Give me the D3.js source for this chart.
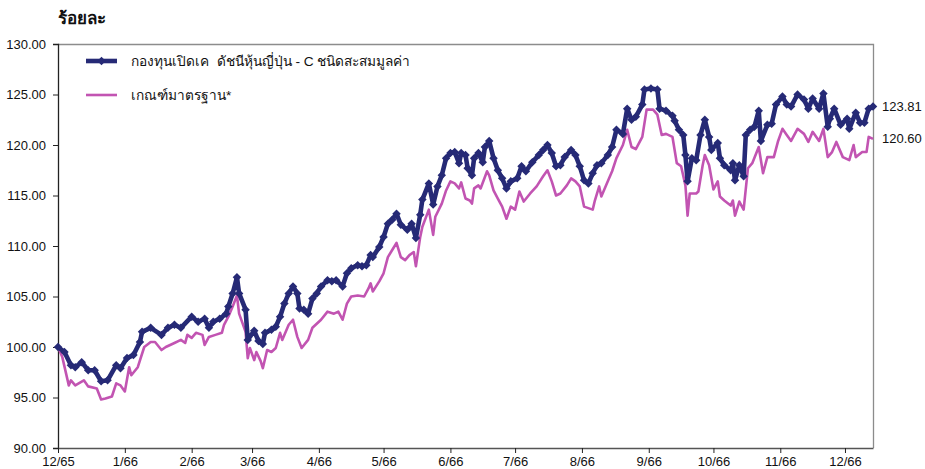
<!DOCTYPE html>
<html>
<head>
<meta charset="utf-8">
<script src="https://cdn.jsdelivr.net/npm/d3@7"></script>
<style>
  html, body { margin: 0; padding: 0; background: #fff; }
  svg { display: block; font-family: "Liberation Sans", Arial, sans-serif; }
</style>
</head>
<body>
<svg id="chart" width="925" height="469"></svg>
<script>
// Fund NAV index (rebased to 100) – dates and values
const fundDates = [
  "2022-12-14","2022-12-17","2022-12-20","2022-12-22","2022-12-25","2022-12-28","2022-12-31",
  "2023-01-03","2023-01-06","2023-01-10","2023-01-12","2023-01-15","2023-01-18","2023-01-21","2023-01-22","2023-01-26","2023-01-31",
  "2023-02-03","2023-02-06","2023-02-09","2023-02-14","2023-02-17","2023-02-20","2023-02-22","2023-02-24","2023-02-27",
  "2023-03-02","2023-03-03","2023-03-05","2023-03-07","2023-03-08","2023-03-11","2023-03-12","2023-03-15","2023-03-17","2023-03-19","2023-03-20","2023-03-23","2023-03-25","2023-03-27","2023-03-29","2023-03-31",
  "2023-04-02","2023-04-04","2023-04-05","2023-04-07","2023-04-09","2023-04-11","2023-04-13","2023-04-15","2023-04-18","2023-04-20","2023-04-22","2023-04-25","2023-04-27","2023-04-29",
  "2023-05-02","2023-05-04","2023-05-06","2023-05-08","2023-05-09","2023-05-12","2023-05-14","2023-05-16","2023-05-18","2023-05-20","2023-05-22","2023-05-25","2023-05-27","2023-05-29","2023-05-31",
  "2023-06-01","2023-06-04","2023-06-06","2023-06-08","2023-06-10","2023-06-12","2023-06-14","2023-06-16","2023-06-18","2023-06-19","2023-06-21","2023-06-22","2023-06-24","2023-06-25","2023-06-27","2023-06-29","2023-06-30",
  "2023-07-02","2023-07-04","2023-07-06","2023-07-08","2023-07-10","2023-07-12","2023-07-15","2023-07-17","2023-07-19","2023-07-22","2023-07-25","2023-07-27","2023-07-29","2023-07-31",
  "2023-08-02","2023-08-04","2023-08-06","2023-08-09","2023-08-11","2023-08-13","2023-08-15","2023-08-17","2023-08-19","2023-08-21","2023-08-23","2023-08-26","2023-08-28","2023-08-30",
  "2023-09-02","2023-09-04","2023-09-06","2023-09-08","2023-09-11","2023-09-12","2023-09-15","2023-09-18","2023-09-19","2023-09-22","2023-09-25","2023-09-26","2023-09-28","2023-09-30",
  "2023-10-01","2023-10-02","2023-10-04","2023-10-06","2023-10-08","2023-10-10","2023-10-12","2023-10-13","2023-10-16","2023-10-17","2023-10-19","2023-10-22","2023-10-23","2023-10-24","2023-10-26","2023-10-28","2023-10-29","2023-10-31",
  "2023-11-02","2023-11-04","2023-11-05","2023-11-08","2023-11-10","2023-11-12","2023-11-15","2023-11-17","2023-11-19","2023-11-22","2023-11-25","2023-11-27","2023-11-29",
  "2023-12-02","2023-12-04","2023-12-06","2023-12-07","2023-12-09","2023-12-12","2023-12-15","2023-12-16","2023-12-19","2023-12-21","2023-12-23","2023-12-25","2023-12-27"
];
const fundValues = [
  100.0,99.5,98.2,98.0,98.5,97.7,97.7,
  96.6,96.7,98.2,97.9,98.9,99.2,100.5,101.5,101.9,101.2,
  101.9,102.2,101.9,103.0,102.5,102.8,101.9,102.5,102.8,
  103.3,104.0,105.3,106.9,105.3,103.7,100.7,101.6,100.6,100.3,101.4,101.7,102.0,103.0,104.3,105.3,
  106.0,105.3,103.8,103.7,103.3,104.8,105.3,106.0,106.6,106.5,106.6,106.0,107.3,107.8,
  108.1,108.0,108.1,109.1,108.9,109.9,110.9,112.2,112.6,113.2,112.1,111.6,112.2,110.8,113.1,
  114.6,116.2,114.1,115.9,117.0,118.7,119.2,119.3,118.2,119.2,119.0,117.7,117.0,118.7,119.2,118.3,119.8,
  120.4,118.7,117.5,116.7,115.7,116.4,116.7,117.9,117.4,118.3,119.0,119.5,120.0,119.2,
  117.9,118.0,118.8,119.5,119.0,117.9,116.5,116.2,117.2,118.0,118.2,119.0,119.8,121.5,
  121.1,123.6,122.5,122.8,124.0,125.5,125.6,125.5,123.6,123.4,122.9,122.4,121.5,121.0,
  119.0,116.4,118.7,118.5,121.0,122.5,120.8,119.5,120.2,118.7,118.0,117.5,118.2,116.5,118.0,116.9,121.0,121.5,
  121.8,123.4,120.4,122.0,122.1,124.0,124.8,124.0,123.8,125.0,124.5,123.6,124.6,
  123.6,125.1,121.8,122.6,123.6,122.0,122.6,121.6,123.2,122.2,122.2,123.6,123.81
];

// Benchmark index (rebased to 100) – dates and values
const benchDates = [
  "2022-12-14","2022-12-16","2022-12-19","2022-12-20","2022-12-22","2022-12-26","2022-12-28",
  "2023-01-01","2023-01-03","2023-01-05","2023-01-08","2023-01-10","2023-01-12","2023-01-14","2023-01-16","2023-01-17","2023-01-20","2023-01-23","2023-01-26","2023-01-28","2023-01-31",
  "2023-02-02","2023-02-06","2023-02-09","2023-02-11","2023-02-12","2023-02-14","2023-02-16","2023-02-19","2023-02-20","2023-02-22","2023-02-25","2023-02-28",
  "2023-03-01","2023-03-03","2023-03-05","2023-03-07","2023-03-08","2023-03-11","2023-03-12","2023-03-13","2023-03-15","2023-03-16","2023-03-18","2023-03-19","2023-03-21","2023-03-23","2023-03-25","2023-03-27","2023-03-28","2023-03-31",
  "2023-04-02","2023-04-04","2023-04-06","2023-04-09","2023-04-11","2023-04-15","2023-04-18","2023-04-21","2023-04-23","2023-04-25","2023-04-27","2023-04-29",
  "2023-05-02","2023-05-05","2023-05-07","2023-05-08","2023-05-09","2023-05-12","2023-05-14","2023-05-16","2023-05-18","2023-05-20","2023-05-22","2023-05-24","2023-05-26","2023-05-28","2023-05-29","2023-05-31",
  "2023-06-01","2023-06-04","2023-06-06","2023-06-07","2023-06-10","2023-06-12","2023-06-14","2023-06-16","2023-06-18","2023-06-19","2023-06-21","2023-06-23","2023-06-24","2023-06-25","2023-06-27","2023-06-28",
  "2023-07-01","2023-07-02","2023-07-04","2023-07-06","2023-07-08","2023-07-10","2023-07-12","2023-07-14","2023-07-16","2023-07-18","2023-07-21","2023-07-24","2023-07-27","2023-07-29","2023-07-31",
  "2023-08-02","2023-08-04","2023-08-07","2023-08-09","2023-08-11","2023-08-13","2023-08-15","2023-08-19","2023-08-20","2023-08-22","2023-08-23","2023-08-26","2023-08-28","2023-08-30",
  "2023-09-02","2023-09-04","2023-09-06","2023-09-08","2023-09-11","2023-09-13","2023-09-16","2023-09-18","2023-09-20","2023-09-22","2023-09-25","2023-09-27","2023-09-29",
  "2023-10-01","2023-10-02","2023-10-03","2023-10-06","2023-10-07","2023-10-09","2023-10-10","2023-10-12","2023-10-14","2023-10-16","2023-10-17","2023-10-19","2023-10-22","2023-10-23","2023-10-24","2023-10-26","2023-10-28","2023-10-30",
  "2023-11-01","2023-11-04","2023-11-06","2023-11-08","2023-11-11","2023-11-13","2023-11-15","2023-11-17","2023-11-19","2023-11-22","2023-11-25","2023-11-27","2023-11-29",
  "2023-12-02","2023-12-04","2023-12-06","2023-12-08","2023-12-10","2023-12-13","2023-12-16","2023-12-18","2023-12-19","2023-12-22","2023-12-24","2023-12-25","2023-12-27"
];
const benchValues = [
  100.0,99.0,96.2,96.7,96.2,96.7,96.1,
  95.9,94.8,94.9,95.1,96.4,96.2,95.6,98.0,97.2,98.0,100.0,100.5,100.5,99.7,
  100.0,100.4,100.7,100.4,101.2,100.9,101.4,101.2,100.2,101.0,101.2,101.4,
  102.2,103.0,104.0,105.1,103.3,101.5,98.9,99.9,98.7,99.5,98.6,97.9,99.7,99.5,99.9,101.4,100.7,102.2,
  102.7,101.0,99.9,100.7,101.9,102.7,103.5,103.3,103.5,102.7,104.3,105.0,
  105.1,105.0,105.8,106.3,105.5,106.5,107.3,108.9,109.6,110.3,108.9,108.6,109.1,109.4,108.0,110.9,
  111.9,113.6,111.1,112.9,114.2,115.5,116.4,116.2,115.7,116.3,114.7,114.5,114.2,115.7,116.0,115.7,
  117.4,117.0,115.5,114.7,113.9,112.7,113.9,113.6,115.4,114.4,115.2,115.9,116.9,117.5,116.4,
  115.0,115.2,116.0,116.7,116.4,115.9,113.9,113.6,114.5,115.9,114.9,116.4,117.4,118.7,
  120.0,121.5,119.8,119.6,120.8,123.5,123.5,123.0,121.0,121.1,120.8,118.2,117.9,
  116.0,113.0,115.2,115.2,115.4,118.0,119.0,118.0,115.6,116.4,114.9,114.5,114.0,114.5,113.0,114.4,113.6,117.7,
  118.2,119.8,117.2,118.8,118.8,120.4,121.6,121.0,120.4,121.6,121.1,120.3,121.3,
  120.4,121.6,118.8,119.3,120.3,118.8,118.5,120.0,118.8,119.3,119.3,120.8,120.60
];

// Axis ticks
const yTicks = [90, 95, 100, 105, 110, 115, 120, 125, 130];
const xTickDates = [
  "2022-12-14","2023-01-14","2023-02-14","2023-03-14","2023-04-14","2023-05-14","2023-06-14",
  "2023-07-14","2023-08-14","2023-09-14","2023-10-14","2023-11-14","2023-12-14"
];
const xTickLabels = ["12/65","1/66","2/66","3/66","4/66","5/66","6/66","7/66","8/66","9/66","10/66","11/66","12/66"];

const seriesNames = ["กองทุนเปิดเค\u00a0 ดัชนีหุ้นญี่ปุ่น - C ชนิดสะสมมูลค่า", "เกณฑ์มาตรฐาน*"];
const yTitle = "ร้อยละ";

const NAVY = "#262a76";
const PINK = "#c254b2";

const parse = d3.timeParse("%Y-%m-%d");
const fund = fundDates.map((d, i) => ({ date: parse(d), value: fundValues[i] }));
const bench = benchDates.map((d, i) => ({ date: parse(d), value: benchValues[i] }));

const svg = d3.select("#chart");
const plotLeft = 58, plotRight = 873, plotTop = 44, plotBottom = 448;

const x = d3.scaleTime()
  .domain([parse("2022-12-14"), parse("2023-12-27")])
  .range([plotLeft, plotRight]);
const y = d3.scaleLinear().domain([90, 130]).range([plotBottom, plotTop]);

// Frame (top and right edges)
svg.append("path")
  .attr("d", `M${plotLeft},${plotTop + 0.5}H${plotRight + 0.5}V${plotBottom}`)
  .attr("fill", "none").attr("stroke", "#8c8c8c").attr("stroke-width", 1.3);

// Y axis
const yAxis = svg.append("g")
  .attr("transform", `translate(${plotLeft},0)`)
  .call(d3.axisLeft(y).tickValues(yTicks).tickFormat(d3.format(".2f")).tickSize(5).tickPadding(7));
yAxis.select(".domain").attr("stroke", "#222").attr("stroke-width", 1.3);
yAxis.selectAll(".tick line").attr("stroke", "#222");
yAxis.selectAll("text").attr("font-size", 13).attr("fill", "#111");

// X axis
const xAxis = svg.append("g")
  .attr("transform", `translate(0,${plotBottom})`)
  .call(d3.axisBottom(x)
    .tickValues(xTickDates.map(parse))
    .tickFormat((d, i) => xTickLabels[i])
    .tickSize(5).tickPadding(4).tickSizeOuter(0));
xAxis.select(".domain").attr("stroke", "#555").attr("stroke-width", 1.3);
xAxis.selectAll(".tick line").attr("stroke", "#222");
xAxis.selectAll("text").attr("font-size", 13).attr("fill", "#111");

// Y title
svg.append("text")
  .attr("x", 58).attr("y", 24)
  .attr("font-size", 17).attr("font-weight", "bold").attr("fill", "#111")
  .text(yTitle);

// Series lines
const line = d3.line().x(d => x(d.date)).y(d => y(d.value));

svg.append("path").datum(bench)
  .attr("d", line).attr("fill", "none")
  .attr("stroke", PINK).attr("stroke-width", 2.6).attr("stroke-linejoin", "round");

svg.append("path").datum(fund)
  .attr("d", line).attr("fill", "none")
  .attr("stroke", NAVY).attr("stroke-width", 4.6).attr("stroke-linejoin", "round");

const diamond = d3.symbol().type(d3.symbolDiamond2).size(46);
svg.append("g").selectAll("path").data(fund).join("path")
  .attr("d", diamond)
  .attr("transform", d => `translate(${x(d.date)},${y(d.value)})`)
  .attr("fill", NAVY);

// End-value labels
svg.append("text").attr("x", 882).attr("y", y(fundValues[fundValues.length - 1]) + 4)
  .attr("font-size", 13).attr("fill", "#111").text(fundValues[fundValues.length - 1].toFixed(2));
svg.append("text").attr("x", 882).attr("y", y(benchValues[benchValues.length - 1]) + 4)
  .attr("font-size", 13).attr("fill", "#111").text(benchValues[benchValues.length - 1].toFixed(2));

// Legend
const legend = svg.append("g");
legend.append("line").attr("x1", 86).attr("x2", 117).attr("y1", 61).attr("y2", 61)
  .attr("stroke", NAVY).attr("stroke-width", 4.6);
legend.append("path").attr("d", diamond).attr("transform", "translate(101.5,61)").attr("fill", NAVY);
legend.append("text").attr("x", 131).attr("y", 66).attr("font-size", 13.7)
  .attr("fill", "#111").text(seriesNames[0]);
legend.append("line").attr("x1", 86).attr("x2", 117).attr("y1", 95).attr("y2", 95)
  .attr("stroke", PINK).attr("stroke-width", 2.6);
legend.append("text").attr("x", 131).attr("y", 100).attr("font-size", 13.7)
  .attr("fill", "#111").text(seriesNames[1]);
</script>
</body>
</html>
